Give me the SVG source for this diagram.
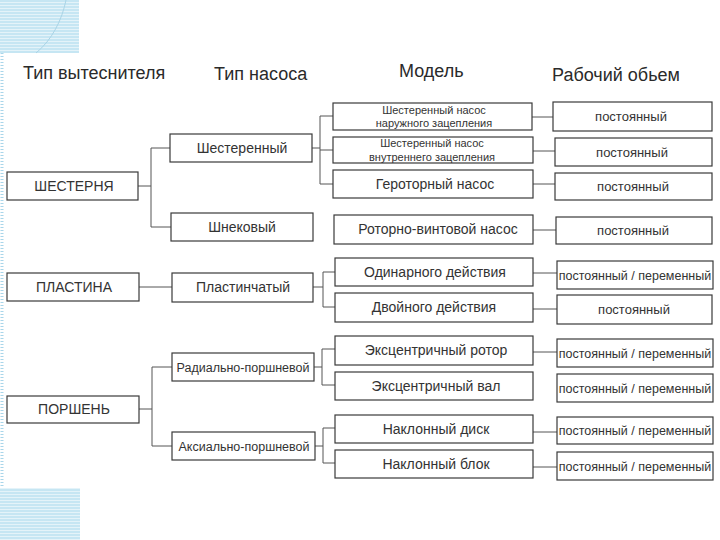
<svg xmlns="http://www.w3.org/2000/svg" width="720" height="540" viewBox="0 0 720 540">
  <defs>
    <pattern id="hatch" width="6" height="3" patternUnits="userSpaceOnUse">
      <rect width="6" height="3" fill="#c6e6f3"/>
      <rect y="2" width="6" height="1" fill="#e4f3f9"/>
    </pattern>
    <style>
      .box { fill: #ffffff; stroke: #3a3a3a; stroke-width: 1.2; }
      .con { fill: none; stroke: #555555; stroke-width: 1; }
      .hdr { font-family: "Liberation Sans", Arial, sans-serif; font-size: 18px; fill: #2a2a2a; }
      .t14 { font-family: "Liberation Sans", Arial, sans-serif; font-size: 14px; fill: #333333; text-anchor: middle; }
      .t13 { font-family: "Liberation Sans", Arial, sans-serif; font-size: 13px; fill: #333333; text-anchor: middle; }
      .t125 { font-family: "Liberation Sans", Arial, sans-serif; font-size: 12.5px; fill: #333333; text-anchor: middle; }
      .t11 { font-family: "Liberation Sans", Arial, sans-serif; font-size: 11px; fill: #333333; text-anchor: middle; }
    </style>
  </defs>
  <rect width="720" height="540" fill="#ffffff"/>

  <g id="decor">
    <rect x="0" y="0" width="79" height="53" fill="url(#hatch)"/>
    <path d="M36,53 C52,40 62,20 66,0" fill="none" stroke="#a9d4e6" stroke-width="1"/>
    <line x1="2" y1="53" x2="2" y2="488" stroke="#a9d6ea" stroke-width="3" stroke-dasharray="1 2"/>
    <rect x="0" y="488" width="80" height="52" fill="url(#hatch)"/>
  </g>

  <g id="headers">
    <text class="hdr" x="23" y="79">Тип вытеснителя</text>
    <text class="hdr" x="214" y="80">Тип насоса</text>
    <text class="hdr" x="399" y="77">Модель</text>
    <text class="hdr" x="552" y="81">Рабочий обьем</text>
  </g>

  <g id="connectors">
    <path class="con" d="M138,186 H151 M151,148 V227 M151,148 H170 M151,227 H171"/>
    <path class="con" d="M139,287 H172"/>
    <path class="con" d="M139,409 H152 M152,367 V446 M152,367 H172 M152,446 H172"/>
    <path class="con" d="M312,148 H320 M320,116 V184 M320,116 H333 M320,150 H333 M320,184 H333"/>
    <path class="con" d="M313,287 H323 M323,272 V307 M323,272 H335 M323,307 H335"/>
    <path class="con" d="M314,367 H322 M322,349 V385 M322,349 H335 M322,385 H335"/>
    <path class="con" d="M315,446 H323 M323,428 V463 M323,428 H335 M323,463 H335"/>
    <path class="con" d="M532,117 H553 M533,151 H555 M533,184 H555 M533,230 H556 M533,273 H557 M533,309 H557 M533,352 H557 M533,432 H557 M533,467 H557"/>
  </g>

  <g id="n-shesternya"><rect class="box" x="7" y="172" width="131" height="28"/><text class="t14" x="74" y="191">ШЕСТЕРНЯ</text></g>
  <g id="n-plastina"><rect class="box" x="7" y="273" width="132" height="28"/><text class="t14" x="74" y="292">ПЛАСТИНА</text></g>
  <g id="n-porshen"><rect class="box" x="7" y="396" width="132" height="27"/><text class="t14" x="74" y="414">ПОРШЕНЬ</text></g>

  <g id="n-shesterenny"><rect class="box" x="170" y="134" width="142" height="28"/><text class="t14" x="242" y="153">Шестеренный</text></g>
  <g id="n-shnekovy"><rect class="box" x="171" y="213" width="142" height="28"/><text class="t14" x="242" y="232">Шнековый</text></g>
  <g id="n-plastinchaty"><rect class="box" x="172" y="273" width="141" height="29"/><text class="t14" x="243" y="292">Пластинчатый</text></g>
  <g id="n-radialno"><rect class="box" x="172" y="353" width="142" height="28"/><text class="t125" x="243" y="372">Радиально-поршневой</text></g>
  <g id="n-aksialno"><rect class="box" x="172" y="432" width="143" height="28"/><text class="t125" x="244" y="451">Аксиально-поршневой</text></g>

  <g id="m1"><rect class="box" x="333" y="103" width="199" height="27"/><text class="t11" x="434" y="114">Шестеренный насос</text><text class="t11" x="434" y="127">наружного зацепления</text></g>
  <g id="m2"><rect class="box" x="333" y="137" width="200" height="26"/><text class="t11" x="432" y="147">Шестеренный насос</text><text class="t11" x="432" y="161">внутреннего зацепления</text></g>
  <g id="m3"><rect class="box" x="333" y="170" width="200" height="28"/><text class="t14" x="435" y="189">Героторный насос</text></g>
  <g id="m4"><rect class="box" x="334" y="215" width="199" height="29"/><text class="t14" x="438" y="234">Роторно-винтовой насос</text></g>
  <g id="m5"><rect class="box" x="335" y="258" width="198" height="28"/><text class="t14" x="435" y="277">Одинарного действия</text></g>
  <g id="m6"><rect class="box" x="335" y="293" width="198" height="29"/><text class="t14" x="434" y="312">Двойного действия</text></g>
  <g id="m7"><rect class="box" x="335" y="336" width="198" height="29"/><text class="t14" x="436" y="355">Эксцентричный ротор</text></g>
  <g id="m8"><rect class="box" x="335" y="372" width="198" height="28"/><text class="t14" x="436" y="391">Эксцентричный вал</text></g>
  <g id="m9"><rect class="box" x="335" y="415" width="198" height="28"/><text class="t14" x="436" y="434">Наклонный диск</text></g>
  <g id="m10"><rect class="box" x="335" y="450" width="198" height="28"/><text class="t14" x="436" y="469">Наклонный блок</text></g>

  <g id="r1"><rect class="box" x="553" y="102" width="159" height="29"/><text class="t13" x="631" y="121">постоянный</text></g>
  <g id="r2"><rect class="box" x="555" y="138" width="157" height="28"/><text class="t13" x="632" y="157">постоянный</text></g>
  <g id="r3"><rect class="box" x="555" y="173" width="157" height="27"/><text class="t13" x="633" y="191">постоянный</text></g>
  <g id="r4"><rect class="box" x="556" y="217" width="156" height="27"/><text class="t13" x="633" y="235">постоянный</text></g>
  <g id="r5"><rect class="box" x="557" y="261" width="156" height="28"/><text class="t125" x="635" y="280">постоянный / переменный</text></g>
  <g id="r6"><rect class="box" x="557" y="295" width="155" height="29"/><text class="t13" x="634" y="314">постоянный</text></g>
  <g id="r7"><rect class="box" x="557" y="339" width="156" height="28"/><text class="t125" x="635" y="358">постоянный / переменный</text></g>
  <g id="r8"><rect class="box" x="557" y="374" width="156" height="28"/><text class="t125" x="635" y="393">постоянный / переменный</text></g>
  <g id="r9"><rect class="box" x="557" y="417" width="156" height="27"/><text class="t125" x="635" y="435">постоянный / переменный</text></g>
  <g id="r10"><rect class="box" x="557" y="452" width="156" height="28"/><text class="t125" x="635" y="471">постоянный / переменный</text></g>
</svg>
